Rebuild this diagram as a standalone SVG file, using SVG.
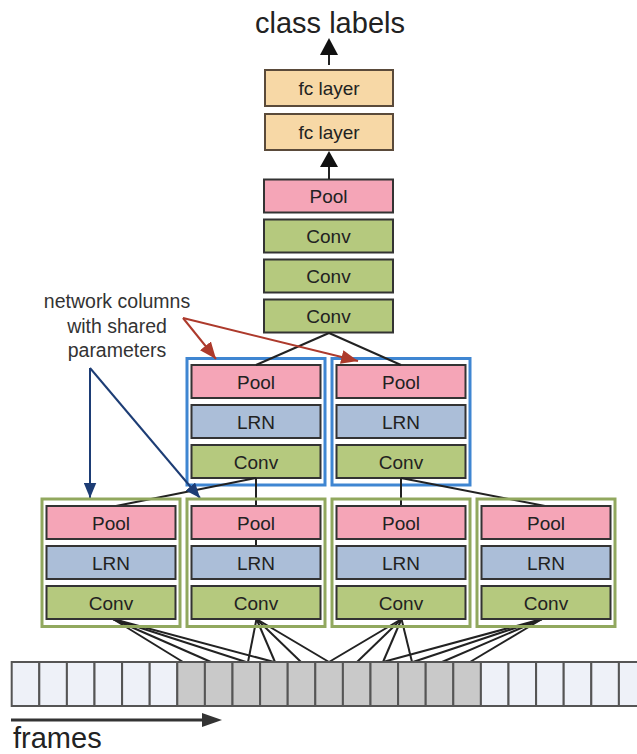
<svg xmlns="http://www.w3.org/2000/svg" width="637" height="754" viewBox="0 0 637 754">
  <style>
    text { font-family: "Liberation Sans", Arial, sans-serif; fill: #222; }
    .lbl { font-size: 19px; text-anchor: middle; }
    .big { font-size: 29px; }
    .note { font-size: 19.5px; text-anchor: middle; fill: #333; }
    .box { stroke: #333; stroke-width: 2; }
    .fc { fill: #f7d8a6; stroke: #5a4a3a; stroke-width: 2; }
    .pool { fill: #f5a5b7; }
    .lrn { fill: #abbed8; }
    .conv { fill: #b5c97e; }
    .blue { fill: none; stroke: #3f86d2; stroke-width: 3; }
    .green { fill: none; stroke: #91a85e; stroke-width: 3; }
    .link { stroke: #222; stroke-width: 2; fill: none; }
    .cell { stroke: #555; stroke-width: 2; }
    .blank { fill: #eef1f8; }
    .used { fill: #c9c9c9; }
    .navy { stroke: #1d3d75; stroke-width: 2; fill: none; }
    .red { stroke: #ad3a2c; stroke-width: 2; fill: none; }
  </style>
  <defs>
    <marker id="headNavy" viewBox="0 0 12 10" refX="12" refY="5" markerWidth="15" markerHeight="13" markerUnits="userSpaceOnUse" orient="auto">
      <path d="M0,0 L12,5 L0,10 Z" fill="#1d3d75"/>
    </marker>
    <marker id="headRed" viewBox="0 0 12 10" refX="12" refY="5" markerWidth="17" markerHeight="14" markerUnits="userSpaceOnUse" orient="auto">
      <path d="M0,0 L12,5 L0,10 Z" fill="#ad3a2c"/>
    </marker>
  </defs>

  <rect width="637" height="754" fill="#fff"/>

  <!-- output label -->
  <text class="big" x="330" y="33" text-anchor="middle">class labels</text>

  <!-- top trunk -->
  <g id="fc2">
    <rect class="fc" x="265" y="70" width="128" height="36"/>
    <text class="lbl" x="329" y="95">fc layer</text>
  </g>
  <g id="fc1">
    <rect class="fc" x="265" y="114" width="128" height="36"/>
    <text class="lbl" x="329" y="139">fc layer</text>
  </g>
  <g id="top-pool">
    <rect class="box pool" x="264" y="179.5" width="129" height="33"/>
    <text class="lbl" x="328.5" y="203">Pool</text>
  </g>
  <g id="top-conv3">
    <rect class="box conv" x="264" y="219.5" width="129" height="33"/>
    <text class="lbl" x="328.5" y="243">Conv</text>
  </g>
  <g id="top-conv2">
    <rect class="box conv" x="264" y="259.5" width="129" height="33"/>
    <text class="lbl" x="328.5" y="283">Conv</text>
  </g>
  <g id="top-conv1">
    <rect class="box conv" x="264" y="299.5" width="129" height="33"/>
    <text class="lbl" x="328.5" y="323">Conv</text>
  </g>

  <!-- second-level columns (blue frames) -->
  <g id="mid-left">
    <rect class="blue" x="187" y="358.5" width="138" height="126.5"/>
    <rect class="box pool" x="191.5" y="365" width="129" height="33"/>
    <text class="lbl" x="256" y="388.5">Pool</text>
    <rect class="box lrn" x="191.5" y="405" width="129" height="33"/>
    <text class="lbl" x="256" y="428.5">LRN</text>
    <rect class="box conv" x="191.5" y="445" width="129" height="33"/>
    <text class="lbl" x="256" y="468.5">Conv</text>
  </g>
  <g id="mid-right">
    <rect class="blue" x="332" y="358.5" width="138" height="126.5"/>
    <rect class="box pool" x="336.5" y="365" width="129" height="33"/>
    <text class="lbl" x="401" y="388.5">Pool</text>
    <rect class="box lrn" x="336.5" y="405" width="129" height="33"/>
    <text class="lbl" x="401" y="428.5">LRN</text>
    <rect class="box conv" x="336.5" y="445" width="129" height="33"/>
    <text class="lbl" x="401" y="468.5">Conv</text>
  </g>

  <!-- connectors -->
  <g id="connectors">
    <!-- trunk arrows -->
    <line class="link" x1="329" y1="65" x2="329" y2="52" stroke-width="3"/>
    <path d="M320,55 L329,38 L338,55 Z" fill="#111"/>
    <line class="link" x1="329" y1="179" x2="329" y2="164" stroke-width="3"/>
    <path d="M320,167 L329,151 L338,167 Z" fill="#111"/>
    <!-- trunk to mid columns -->
    <line class="link" x1="329" y1="333" x2="256" y2="365"/>
    <line class="link" x1="329" y1="333" x2="401" y2="365"/>
    <!-- mid columns to bottom columns -->
    <line class="link" x1="256" y1="478" x2="256" y2="506"/>
    <line class="link" x1="256" y1="478" x2="116" y2="506"/>
    <line class="link" x1="256" y1="539" x2="256" y2="546"/>
    <line class="link" x1="401" y1="478" x2="401" y2="506"/>
    <line class="link" x1="401" y1="478" x2="545" y2="506"/>
    <!-- bottom columns to frames -->
    <line class="link" x1="113" y1="619" x2="183" y2="662"/>
    <line class="link" x1="113" y1="619" x2="211" y2="662"/>
    <line class="link" x1="113" y1="619" x2="246" y2="662"/>
    <line class="link" x1="113" y1="619" x2="274" y2="662"/>
    <line class="link" x1="256.5" y1="619" x2="248" y2="662"/>
    <line class="link" x1="256.5" y1="619" x2="275" y2="662"/>
    <line class="link" x1="256.5" y1="619" x2="301" y2="662"/>
    <line class="link" x1="256.5" y1="619" x2="329" y2="662"/>
    <line class="link" x1="401.5" y1="619" x2="329" y2="662"/>
    <line class="link" x1="401.5" y1="619" x2="357" y2="662"/>
    <line class="link" x1="401.5" y1="619" x2="383" y2="662"/>
    <line class="link" x1="401.5" y1="619" x2="412" y2="662"/>
    <line class="link" x1="542" y1="619" x2="383" y2="662"/>
    <line class="link" x1="542" y1="619" x2="413" y2="662"/>
    <line class="link" x1="542" y1="619" x2="442" y2="662"/>
    <line class="link" x1="542" y1="619" x2="470" y2="662"/>
    <!-- callout arrows -->
    <line class="red" x1="183" y1="318" x2="216" y2="359" marker-end="url(#headRed)"/>
    <line class="red" x1="183" y1="318" x2="358" y2="361" marker-end="url(#headRed)"/>
    <line class="navy" x1="90" y1="368" x2="90" y2="498" marker-end="url(#headNavy)"/>
    <line class="navy" x1="90" y1="368" x2="200" y2="498" marker-end="url(#headNavy)"/>
  </g>

  <!-- first-level columns (green frames) -->
  <g id="col-1">
    <rect class="green" x="42" y="499" width="138" height="127.5"/>
    <rect class="box pool" x="46.5" y="506" width="129" height="33"/>
    <text class="lbl" x="111" y="529.5">Pool</text>
    <rect class="box lrn" x="46.5" y="546" width="129" height="33"/>
    <text class="lbl" x="111" y="569.5">LRN</text>
    <rect class="box conv" x="46.5" y="586" width="129" height="33"/>
    <text class="lbl" x="111" y="609.5">Conv</text>
  </g>
  <g id="col-2">
    <rect class="green" x="187" y="499" width="138" height="127.5"/>
    <rect class="box pool" x="191.5" y="506" width="129" height="33"/>
    <text class="lbl" x="256" y="529.5">Pool</text>
    <rect class="box lrn" x="191.5" y="546" width="129" height="33"/>
    <text class="lbl" x="256" y="569.5">LRN</text>
    <rect class="box conv" x="191.5" y="586" width="129" height="33"/>
    <text class="lbl" x="256" y="609.5">Conv</text>
  </g>
  <g id="col-3">
    <rect class="green" x="332" y="499" width="138" height="127.5"/>
    <rect class="box pool" x="336.5" y="506" width="129" height="33"/>
    <text class="lbl" x="401" y="529.5">Pool</text>
    <rect class="box lrn" x="336.5" y="546" width="129" height="33"/>
    <text class="lbl" x="401" y="569.5">LRN</text>
    <rect class="box conv" x="336.5" y="586" width="129" height="33"/>
    <text class="lbl" x="401" y="609.5">Conv</text>
  </g>
  <g id="col-4">
    <rect class="green" x="477" y="499" width="138" height="127.5"/>
    <rect class="box pool" x="481.5" y="506" width="129" height="33"/>
    <text class="lbl" x="546" y="529.5">Pool</text>
    <rect class="box lrn" x="481.5" y="546" width="129" height="33"/>
    <text class="lbl" x="546" y="569.5">LRN</text>
    <rect class="box conv" x="481.5" y="586" width="129" height="33"/>
    <text class="lbl" x="546" y="609.5">Conv</text>
  </g>

  <!-- callout text -->
  <g id="note">
    <text class="note" x="117" y="308">network columns</text>
    <text class="note" x="117" y="333">with shared</text>
    <text class="note" x="117" y="357">parameters</text>
  </g>

  <!-- frame strip -->
  <g id="frames">
    <rect class="cell blank" x="11.7" y="662" width="27.6" height="44"/>
    <rect class="cell blank" x="39.3" y="662" width="27.6" height="44"/>
    <rect class="cell blank" x="66.9" y="662" width="27.6" height="44"/>
    <rect class="cell blank" x="94.5" y="662" width="27.6" height="44"/>
    <rect class="cell blank" x="122.1" y="662" width="27.6" height="44"/>
    <rect class="cell blank" x="149.7" y="662" width="27.6" height="44"/>
    <rect class="cell used" x="177.3" y="662" width="27.6" height="44"/>
    <rect class="cell used" x="204.9" y="662" width="27.6" height="44"/>
    <rect class="cell used" x="232.5" y="662" width="27.6" height="44"/>
    <rect class="cell used" x="260.1" y="662" width="27.6" height="44"/>
    <rect class="cell used" x="287.7" y="662" width="27.6" height="44"/>
    <rect class="cell used" x="315.3" y="662" width="27.6" height="44"/>
    <rect class="cell used" x="342.9" y="662" width="27.6" height="44"/>
    <rect class="cell used" x="370.5" y="662" width="27.6" height="44"/>
    <rect class="cell used" x="398.1" y="662" width="27.6" height="44"/>
    <rect class="cell used" x="425.7" y="662" width="27.6" height="44"/>
    <rect class="cell used" x="453.3" y="662" width="27.6" height="44"/>
    <rect class="cell blank" x="480.9" y="662" width="27.6" height="44"/>
    <rect class="cell blank" x="508.5" y="662" width="27.6" height="44"/>
    <rect class="cell blank" x="536.1" y="662" width="27.6" height="44"/>
    <rect class="cell blank" x="563.7" y="662" width="27.6" height="44"/>
    <rect class="cell blank" x="591.3" y="662" width="27.6" height="44"/>
    <rect class="cell blank" x="618.9" y="662" width="27.6" height="44"/>
  </g>

  <!-- time axis -->
  <g id="time-axis">
    <line x1="11" y1="720" x2="206" y2="720" stroke="#333" stroke-width="3"/>
    <path d="M202,713 L222,720 L202,727 Z" fill="#333"/>
    <text class="big" x="13" y="748">frames</text>
  </g>
</svg>
